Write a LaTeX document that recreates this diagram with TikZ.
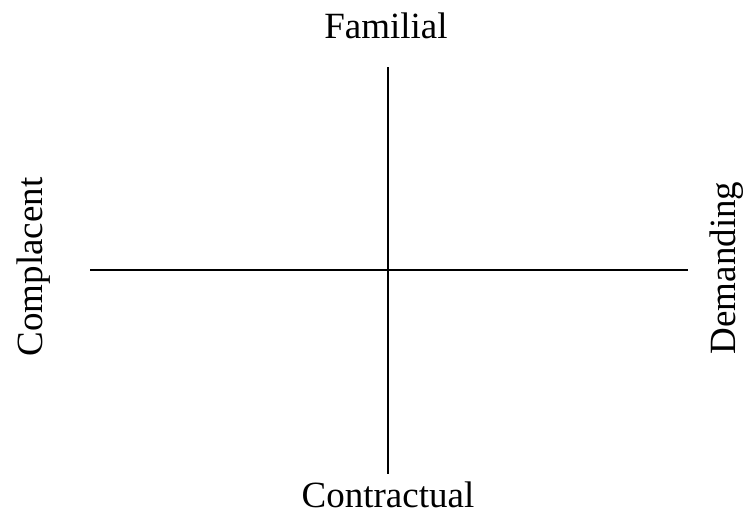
\documentclass[tikz,border=0pt]{standalone}
\usepackage{fontspec}
\setmainfont{Liberation Serif}
\usetikzlibrary{positioning}

\begin{document}
\begin{tikzpicture}[x=1pt, y=-1pt, line width=2pt,
    axislabel/.style={inner sep=0pt, anchor=base, font=\fontsize{37}{44}\selectfont}]
  \useasboundingbox (0,0) rectangle (746,514);
  % axis ends
  \coordinate (top) at (388,67);
  \coordinate (bottom) at (388,474);
  \coordinate (left) at (90,270);
  \coordinate (right) at (688,270);
  \draw (top) -- (bottom);
  \draw (left) -- (right);
  % labels
  \node[axislabel] (familial) at (386,38) {Familial};
  \node[axislabel] (contractual) at (388,507) {Contractual};
  \node[axislabel, rotate=90] (complacent) at (42,267) {Complacent};
  \node[axislabel, rotate=90] (demanding) at (735,268) {Demanding};
\end{tikzpicture}
\end{document}
